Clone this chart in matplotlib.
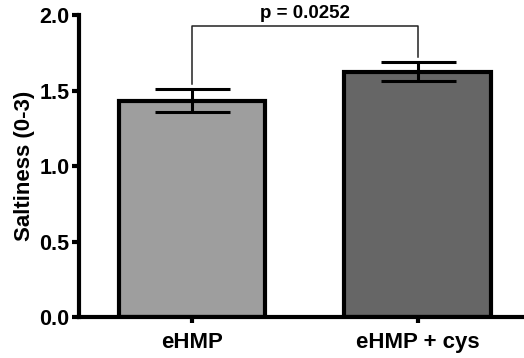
import matplotlib
matplotlib.use("Agg")
import matplotlib.pyplot as plt

categories = ["eHMP", "eHMP + cys"]
means = [1.432, 1.625]
sems = [0.075, 0.062]
colors = ["#9e9e9e", "#666666"]
p_text = "p = 0.0252"
bracket_y = 1.93
bracket_bottoms = [1.545, 1.725]
yticks = [0.0, 0.5, 1.0, 1.5, 2.0]

plt.rcParams['font.family'] = ['Liberation Sans', 'DejaVu Sans']
plt.rcParams['font.weight'] = 'bold'

fig = plt.figure(figsize=(5.24, 3.58), dpi=100)
ax = fig.add_axes([0.151, 0.1145, 0.849, 0.8435])

x = list(range(len(categories)))
ax.bar(x, means, width=0.65, color=colors, edgecolor="black", linewidth=3, zorder=2)
ax.errorbar(x, means, yerr=sems, fmt="none", ecolor="black", elinewidth=2.2,
            capsize=27, capthick=2.2, zorder=3)

ax.plot([x[0], x[0], x[1], x[1]],
        [bracket_bottoms[0], bracket_y, bracket_y, bracket_bottoms[1]],
        color="#222222", linewidth=1.1, zorder=4, clip_on=False)
ax.text((x[0] + x[1]) / 2, bracket_y + 0.025, p_text, ha="center", va="bottom",
        fontsize=13.5, fontweight="bold")

ax.set_xlim(-0.5, 1.47)
ax.set_ylim(0, 2.0)
ax.set_yticks(yticks)
ax.set_yticklabels([f"{v:.1f}" for v in yticks], fontsize=15.5, fontweight="bold")
ax.set_xticks(x)
ax.set_xticklabels(categories, fontsize=16, fontweight="bold")
ax.set_ylabel("Saltiness (0-3)", fontsize=16, fontweight="bold", labelpad=3)

for s in ["top", "right"]:
    ax.spines[s].set_visible(False)
for s in ["left", "bottom"]:
    ax.spines[s].set_linewidth(3)
ax.tick_params(axis="y", width=3, length=5, pad=2)
ax.tick_params(axis="x", width=3, length=4, pad=7)

fig.savefig("out.png", dpi=100)
